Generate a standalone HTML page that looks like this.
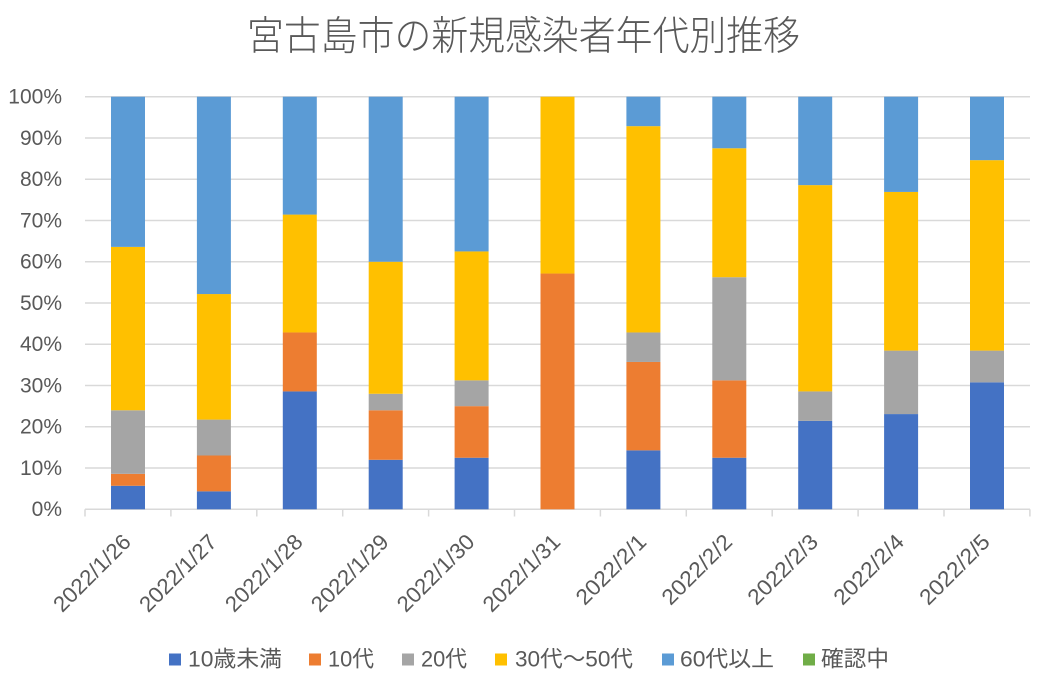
<!DOCTYPE html>
<html>
<head>
<meta charset="utf-8">
<style>
  html, body { margin: 0; padding: 0; background: #ffffff; }
  svg { display: block; }
  text { font-family: "Liberation Sans", "Noto Sans CJK JP", sans-serif; fill: #595959; }
</style>
</head>
<body>
<svg width="1037" height="674" viewBox="0 0 1037 674" xmlns="http://www.w3.org/2000/svg">
  <rect x="0" y="0" width="1037" height="674" fill="#ffffff"/>

  <!-- Title -->
  <text x="247" y="49.5" font-size="40" font-weight="300" textLength="553" lengthAdjust="spacingAndGlyphs" style="font-family:'Noto Sans CJK JP','Liberation Sans',sans-serif;">宮古島市の新規感染者年代別推移</text>

  <!-- Gridlines -->
  <g stroke="#d9d9d9" stroke-width="1.5">
    <line x1="85" y1="96.7" x2="1030" y2="96.7"/>
    <line x1="85" y1="137.96" x2="1030" y2="137.96"/>
    <line x1="85" y1="179.22" x2="1030" y2="179.22"/>
    <line x1="85" y1="220.48" x2="1030" y2="220.48"/>
    <line x1="85" y1="261.74" x2="1030" y2="261.74"/>
    <line x1="85" y1="303.0" x2="1030" y2="303.0"/>
    <line x1="85" y1="344.26" x2="1030" y2="344.26"/>
    <line x1="85" y1="385.52" x2="1030" y2="385.52"/>
    <line x1="85" y1="426.78" x2="1030" y2="426.78"/>
    <line x1="85" y1="468.04" x2="1030" y2="468.04"/>
    <line x1="85" y1="509.3" x2="1030" y2="509.3"/>
  </g>
  <!-- Tick marks -->
  <g stroke="#d9d9d9" stroke-width="1.5">
    <line x1="85" y1="509.3" x2="85" y2="516.5"/>
    <line x1="170.9" y1="509.3" x2="170.9" y2="516.5"/>
    <line x1="256.8" y1="509.3" x2="256.8" y2="516.5"/>
    <line x1="342.7" y1="509.3" x2="342.7" y2="516.5"/>
    <line x1="428.6" y1="509.3" x2="428.6" y2="516.5"/>
    <line x1="514.5" y1="509.3" x2="514.5" y2="516.5"/>
    <line x1="600.4" y1="509.3" x2="600.4" y2="516.5"/>
    <line x1="686.3" y1="509.3" x2="686.3" y2="516.5"/>
    <line x1="772.2" y1="509.3" x2="772.2" y2="516.5"/>
    <line x1="858.1" y1="509.3" x2="858.1" y2="516.5"/>
    <line x1="944" y1="509.3" x2="944" y2="516.5"/>
    <line x1="1029.9" y1="509.3" x2="1029.9" y2="516.5"/>
  </g>

  <!-- Y axis labels -->
  <g font-size="21" text-anchor="end" dominant-baseline="central">
    <text x="62" y="97">100%</text>
    <text x="62" y="138.3">90%</text>
    <text x="62" y="179.5">80%</text>
    <text x="62" y="220.8">70%</text>
    <text x="62" y="262">60%</text>
    <text x="62" y="303.3">50%</text>
    <text x="62" y="344.5">40%</text>
    <text x="62" y="385.8">30%</text>
    <text x="62" y="427">20%</text>
    <text x="62" y="468.3">10%</text>
    <text x="62" y="509.5">0%</text>
  </g>

  <!-- Bars -->
  <!-- Bar 1 -->
  <g>
    <rect x="111" y="485.78" width="34" height="23.52" fill="#4472c4"/>
    <rect x="111" y="473.82" width="34" height="11.96" fill="#ed7d31"/>
    <rect x="111" y="410.28" width="34" height="63.54" fill="#a5a5a5"/>
    <rect x="111" y="246.89" width="34" height="163.39" fill="#ffc000"/>
    <rect x="111" y="96.7" width="34" height="150.19" fill="#5b9bd5"/>
  </g>
  <!-- Bar 2 -->
  <g>
    <rect x="196.9" y="491.35" width="34" height="17.95" fill="#4472c4"/>
    <rect x="196.9" y="455.50" width="34" height="35.85" fill="#ed7d31"/>
    <rect x="196.9" y="419.60" width="34" height="35.90" fill="#a5a5a5"/>
    <rect x="196.9" y="294.05" width="34" height="125.55" fill="#ffc000"/>
    <rect x="196.9" y="96.7" width="34" height="197.35" fill="#5b9bd5"/>
  </g>
  <!-- Bar 3 -->
  <g>
    <rect x="282.8" y="391.42" width="34" height="117.88" fill="#4472c4"/>
    <rect x="282.8" y="332.46" width="34" height="58.96" fill="#ed7d31"/>
    <rect x="282.8" y="214.58" width="34" height="117.88" fill="#ffc000"/>
    <rect x="282.8" y="96.7" width="34" height="117.88" fill="#5b9bd5"/>
  </g>
  <!-- Bar 4 -->
  <g>
    <rect x="368.7" y="459.79" width="34" height="49.51" fill="#4472c4"/>
    <rect x="368.7" y="410.28" width="34" height="49.51" fill="#ed7d31"/>
    <rect x="368.7" y="393.77" width="34" height="16.51" fill="#a5a5a5"/>
    <rect x="368.7" y="261.74" width="34" height="132.03" fill="#ffc000"/>
    <rect x="368.7" y="96.7" width="34" height="165.04" fill="#5b9bd5"/>
  </g>
  <!-- Bar 5 -->
  <g>
    <rect x="454.6" y="457.72" width="34" height="51.58" fill="#4472c4"/>
    <rect x="454.6" y="406.15" width="34" height="51.57" fill="#ed7d31"/>
    <rect x="454.6" y="380.36" width="34" height="25.79" fill="#a5a5a5"/>
    <rect x="454.6" y="251.42" width="34" height="128.94" fill="#ffc000"/>
    <rect x="454.6" y="96.7" width="34" height="154.72" fill="#5b9bd5"/>
  </g>
  <!-- Bar 6 -->
  <g>
    <rect x="540.5" y="273.54" width="34" height="235.76" fill="#ed7d31"/>
    <rect x="540.5" y="96.7" width="34" height="176.84" fill="#ffc000"/>
  </g>
  <!-- Bar 7 -->
  <g>
    <rect x="626.4" y="450.34" width="34" height="58.96" fill="#4472c4"/>
    <rect x="626.4" y="361.96" width="34" height="88.38" fill="#ed7d31"/>
    <rect x="626.4" y="332.46" width="34" height="29.5" fill="#a5a5a5"/>
    <rect x="626.4" y="126.16" width="34" height="206.3" fill="#ffc000"/>
    <rect x="626.4" y="96.7" width="34" height="29.46" fill="#5b9bd5"/>
  </g>
  <!-- Bar 8 -->
  <g>
    <rect x="712.3" y="457.72" width="34" height="51.58" fill="#4472c4"/>
    <rect x="712.3" y="380.36" width="34" height="77.36" fill="#ed7d31"/>
    <rect x="712.3" y="277.21" width="34" height="103.15" fill="#a5a5a5"/>
    <rect x="712.3" y="148.27" width="34" height="128.94" fill="#ffc000"/>
    <rect x="712.3" y="96.7" width="34" height="51.57" fill="#5b9bd5"/>
  </g>
  <!-- Bar 9 -->
  <g>
    <rect x="798.2" y="420.88" width="34" height="88.42" fill="#4472c4"/>
    <rect x="798.2" y="391.42" width="34" height="29.46" fill="#a5a5a5"/>
    <rect x="798.2" y="185.12" width="34" height="206.3" fill="#ffc000"/>
    <rect x="798.2" y="96.7" width="34" height="88.42" fill="#5b9bd5"/>
  </g>
  <!-- Bar 10 -->
  <g>
    <rect x="884.1" y="414.07" width="34" height="95.23" fill="#4472c4"/>
    <rect x="884.1" y="350.61" width="34" height="63.46" fill="#a5a5a5"/>
    <rect x="884.1" y="191.93" width="34" height="158.68" fill="#ffc000"/>
    <rect x="884.1" y="96.7" width="34" height="95.23" fill="#5b9bd5"/>
  </g>
  <!-- Bar 11 -->
  <g>
    <rect x="970" y="382.34" width="34" height="126.96" fill="#4472c4"/>
    <rect x="970" y="350.61" width="34" height="31.73" fill="#a5a5a5"/>
    <rect x="970" y="160.16" width="34" height="190.45" fill="#ffc000"/>
    <rect x="970" y="96.7" width="34" height="63.46" fill="#5b9bd5"/>
  </g>

  <!-- X axis labels -->
  <g font-size="22" text-anchor="end" dominant-baseline="central">
    <text x="127" y="538" transform="rotate(-45 127 538)" textLength="99" lengthAdjust="spacingAndGlyphs">2022/1/26</text>
    <text x="212.9" y="538" transform="rotate(-45 212.9 538)" textLength="99" lengthAdjust="spacingAndGlyphs">2022/1/27</text>
    <text x="298.8" y="538" transform="rotate(-45 298.8 538)" textLength="99" lengthAdjust="spacingAndGlyphs">2022/1/28</text>
    <text x="384.7" y="538" transform="rotate(-45 384.7 538)" textLength="99" lengthAdjust="spacingAndGlyphs">2022/1/29</text>
    <text x="470.6" y="538" transform="rotate(-45 470.6 538)" textLength="99" lengthAdjust="spacingAndGlyphs">2022/1/30</text>
    <text x="556.5" y="538" transform="rotate(-45 556.5 538)" textLength="99" lengthAdjust="spacingAndGlyphs">2022/1/31</text>
    <text x="642.4" y="538" transform="rotate(-45 642.4 538)" textLength="89" lengthAdjust="spacingAndGlyphs">2022/2/1</text>
    <text x="728.3" y="538" transform="rotate(-45 728.3 538)" textLength="89" lengthAdjust="spacingAndGlyphs">2022/2/2</text>
    <text x="814.2" y="538" transform="rotate(-45 814.2 538)" textLength="89" lengthAdjust="spacingAndGlyphs">2022/2/3</text>
    <text x="900.1" y="538" transform="rotate(-45 900.1 538)" textLength="89" lengthAdjust="spacingAndGlyphs">2022/2/4</text>
    <text x="986" y="538" transform="rotate(-45 986 538)" textLength="89" lengthAdjust="spacingAndGlyphs">2022/2/5</text>
  </g>

  <!-- Legend -->
  <g>
    <rect x="169" y="653.5" width="12" height="12" fill="#4472c4"/>
    <rect x="309" y="653.5" width="12" height="12" fill="#ed7d31"/>
    <rect x="402" y="653.5" width="12" height="12" fill="#a5a5a5"/>
    <rect x="495" y="653.5" width="12" height="12" fill="#ffc000"/>
    <rect x="662" y="653.5" width="12" height="12" fill="#5b9bd5"/>
    <rect x="803" y="653.5" width="12" height="12" fill="#70ad47"/>
  </g>
  <g font-size="22" dominant-baseline="central">
    <text x="188" y="659" textLength="94" lengthAdjust="spacingAndGlyphs">10歳未満</text>
    <text x="328" y="659" textLength="46" lengthAdjust="spacingAndGlyphs">10代</text>
    <text x="421" y="659" textLength="46" lengthAdjust="spacingAndGlyphs">20代</text>
    <text x="515" y="659" textLength="118" lengthAdjust="spacingAndGlyphs">30代～50代</text>
    <text x="680" y="659" textLength="94" lengthAdjust="spacingAndGlyphs">60代以上</text>
    <text x="821" y="659" textLength="68" lengthAdjust="spacingAndGlyphs">確認中</text>
  </g>
</svg>
</body>
</html>
